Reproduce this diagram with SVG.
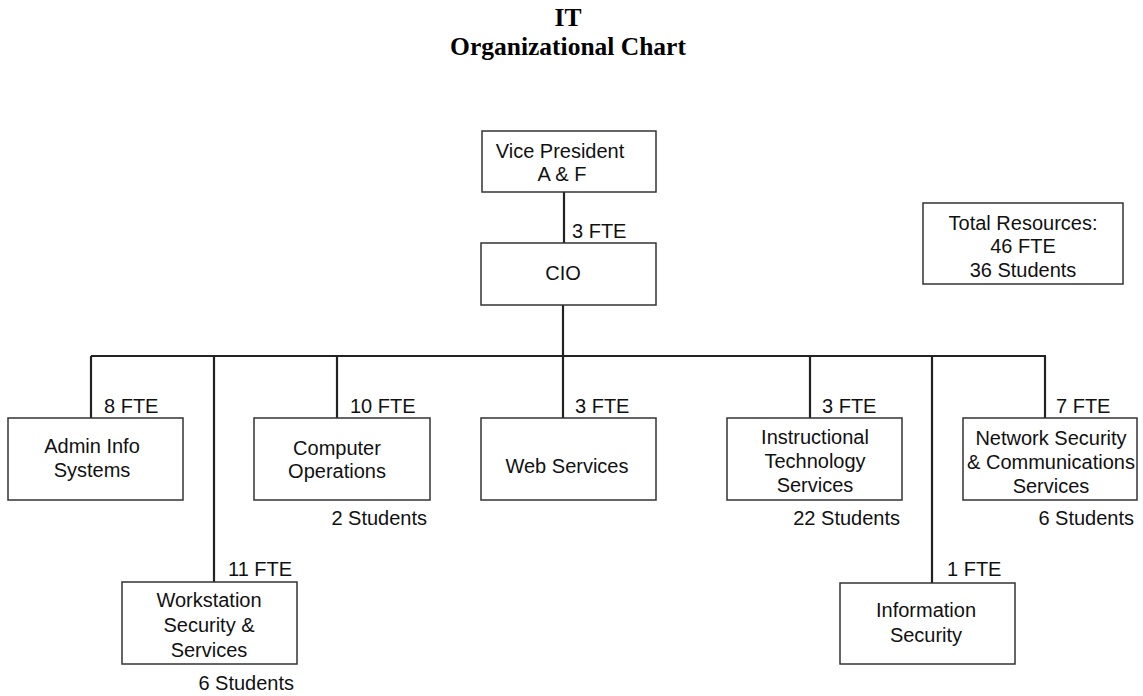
<svg xmlns="http://www.w3.org/2000/svg" width="1143" height="696" viewBox="0 0 1143 696">
<style>
.title{font-family:"Liberation Serif","Times New Roman",serif;font-weight:bold;font-size:25.5px;fill:#000;text-anchor:middle}
.t{font-family:"Liberation Sans",Arial,sans-serif;font-size:20px;fill:#111;text-anchor:middle}
.l{font-family:"Liberation Sans",Arial,sans-serif;font-size:20px;fill:#111}
.r{font-family:"Liberation Sans",Arial,sans-serif;font-size:20px;fill:#111;text-anchor:end}
.box{fill:#fff;stroke:#333;stroke-width:1.5}
.c{stroke:#222;stroke-width:2.2;fill:none}
</style>
<rect width="1143" height="696" fill="#fff"/>
<g id="title">
<text class="title" x="568" y="26">IT</text>
<text class="title" x="568" y="55">Organizational Chart</text>
</g>
<g id="connectors">
<line class="c" x1="564" y1="192" x2="564" y2="243"/>
<line class="c" x1="563" y1="305" x2="563" y2="418"/>
<line class="c" x1="91" y1="356" x2="1046" y2="356"/>
<line class="c" x1="91" y1="356" x2="91" y2="418"/>
<line class="c" x1="214" y1="356" x2="214" y2="582"/>
<line class="c" x1="337" y1="356" x2="337" y2="418"/>
<line class="c" x1="810" y1="356" x2="810" y2="418"/>
<line class="c" x1="932" y1="356" x2="932" y2="583"/>
<line class="c" x1="1045" y1="356" x2="1045" y2="418"/>
</g>
<g id="vp">
<rect class="box" x="482" y="131" width="174" height="61"/>
<text class="t" x="560" y="158">Vice President</text>
<text class="t" x="562" y="181">A &amp; F</text>
</g>
<g id="cio">
<rect class="box" x="481" y="243" width="175" height="62"/>
<text class="l" x="572" y="238">3 FTE</text>
<text class="t" x="563" y="280">CIO</text>
</g>
<g id="total">
<rect class="box" x="923" y="203" width="200" height="81"/>
<text class="t" x="1023" y="230">Total Resources:</text>
<text class="t" x="1023" y="253">46 FTE</text>
<text class="t" x="1023" y="277">36 Students</text>
</g>
<g id="admin">
<rect class="box" x="8" y="418" width="175" height="82"/>
<text class="l" x="104" y="413">8 FTE</text>
<text class="t" x="92" y="453">Admin Info</text>
<text class="t" x="92" y="477">Systems</text>
</g>
<g id="compops">
<rect class="box" x="254" y="418" width="176" height="82"/>
<text class="l" x="350" y="413">10 FTE</text>
<text class="t" x="337" y="455">Computer</text>
<text class="t" x="337" y="478">Operations</text>
<text class="r" x="427" y="525">2 Students</text>
</g>
<g id="web">
<rect class="box" x="481" y="418" width="175" height="82"/>
<text class="l" x="575" y="413">3 FTE</text>
<text class="t" x="567" y="473">Web Services</text>
</g>
<g id="instr">
<rect class="box" x="727" y="418" width="175" height="82"/>
<text class="l" x="822" y="413">3 FTE</text>
<text class="t" x="815" y="444">Instructional</text>
<text class="t" x="815" y="468">Technology</text>
<text class="t" x="815" y="492">Services</text>
<text class="r" x="900" y="525">22 Students</text>
</g>
<g id="network">
<rect class="box" x="963" y="418" width="174" height="82"/>
<text class="l" x="1056" y="413">7 FTE</text>
<text class="t" x="1051" y="445">Network Security</text>
<text class="t" x="1051" y="469">&amp; Communications</text>
<text class="t" x="1051" y="493">Services</text>
<text class="r" x="1134" y="525">6 Students</text>
</g>
<g id="workstation">
<rect class="box" x="122" y="582" width="175" height="82"/>
<text class="l" x="228" y="576">11 FTE</text>
<text class="t" x="209" y="607">Workstation</text>
<text class="t" x="209" y="632">Security &amp;</text>
<text class="t" x="209" y="657">Services</text>
<text class="r" x="294" y="690">6 Students</text>
</g>
<g id="infosec">
<rect class="box" x="840" y="583" width="175" height="81"/>
<text class="l" x="947" y="576">1 FTE</text>
<text class="t" x="926" y="617">Information</text>
<text class="t" x="926" y="642">Security</text>
</g>
</svg>
